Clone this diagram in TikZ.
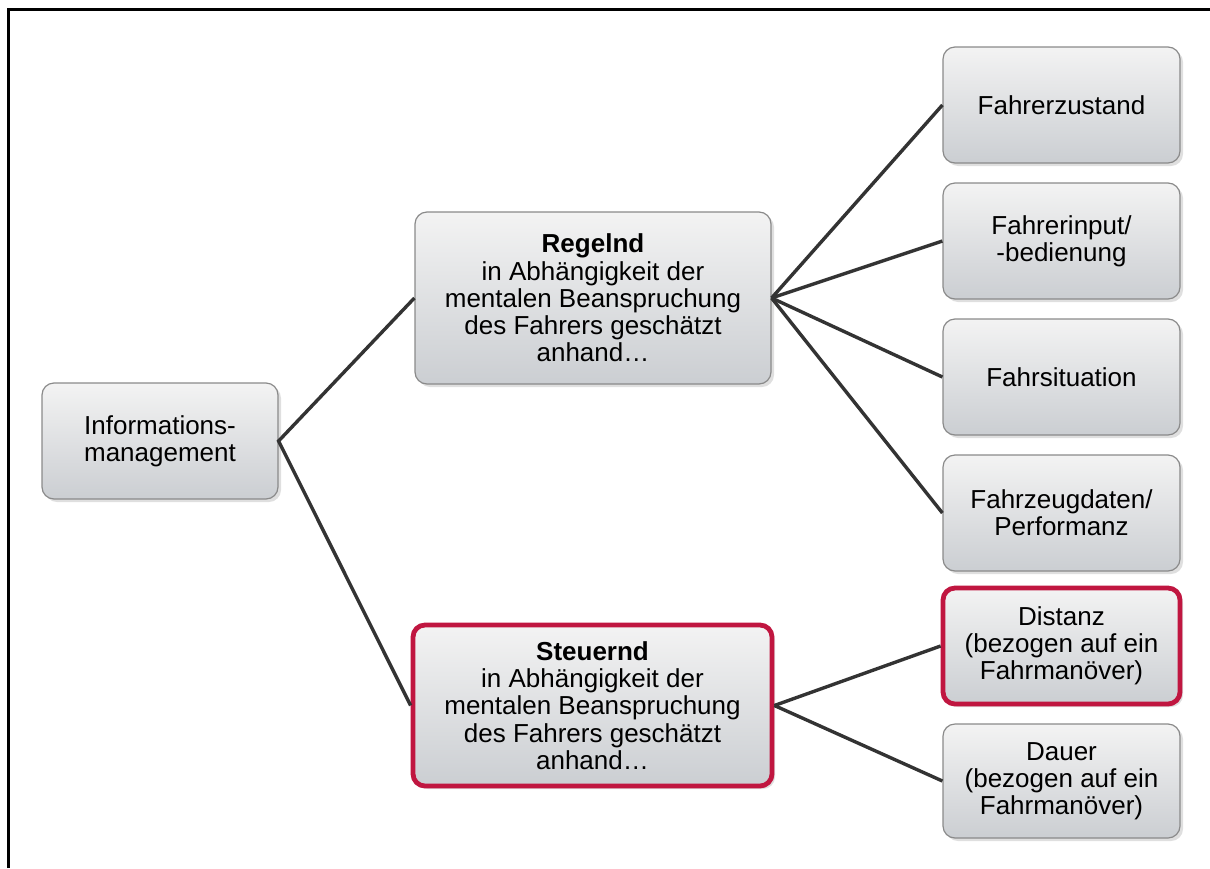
\documentclass[tikz,border=0pt]{standalone}
\usepackage{fontspec}
\setmainfont{Liberation Sans}
\usetikzlibrary{shadows}
\definecolor{boxtop}{HTML}{F3F3F3}
\definecolor{boxbot}{HTML}{CBCED2}
\definecolor{boxline}{HTML}{8A8A8A}
\definecolor{redline}{HTML}{C01640}
\definecolor{conn}{HTML}{333333}
\tikzset{
  box/.style={draw=boxline, line width=0.6pt, rounded corners=6pt,
    top color=boxtop, bottom color=boxbot, align=center,
    font=\fontsize{13}{13.6}\selectfont, inner sep=2pt,
    drop shadow={opacity=0.25, shadow xshift=1.5pt, shadow yshift=-1.5pt}},
  redbox/.style={box, draw=redline, line width=2.4pt},
  conn/.style={draw=conn, line width=1.7pt}
}
\begin{document}
\begin{tikzpicture}[x=0.5pt,y=-0.5pt]
\useasboundingbox (0,0) rectangle (1210,868);
\draw[line width=1.5pt, black] (8,868) -- (8,9) -- (1210,9);

\node[box, minimum width=118pt, minimum height=58pt] (root) at (160,441) {Informations-\\management};
\node[box, minimum width=178pt, minimum height=86pt] (reg) at (593,298) {\textbf{Regelnd}\\in Abhängigkeit der\\mentalen Beanspruchung\\des Fahrers geschätzt\\anhand…};
\node[redbox, minimum width=179.5pt, minimum height=80.5pt] (steu) at (592.5,705.5) {\textbf{Steuernd}\\in Abhängigkeit der\\mentalen Beanspruchung\\des Fahrers geschätzt\\anhand…};

\node[box, minimum width=118.5pt, minimum height=58pt] (r1) at (1061.5,105) {Fahrerzustand};
\node[box, minimum width=118.5pt, minimum height=58pt] (r2) at (1061.5,241) {Fahrerinput/\\-bedienung};
\node[box, minimum width=118.5pt, minimum height=58pt] (r3) at (1061.5,377) {Fahrsituation};
\node[box, minimum width=118.5pt, minimum height=58pt] (r4) at (1061.5,513) {Fahrzeugdaten/\\Performanz};
\node[redbox, minimum width=118.5pt, minimum height=58pt] (r5) at (1061.5,646) {Distanz\\(bezogen auf ein\\Fahrmanöver)};
\node[box, minimum width=118.5pt, minimum height=57pt] (r6) at (1061.5,781) {Dauer\\(bezogen auf ein\\Fahrmanöver)};

\draw[conn] (reg.west) -- (root.east) -- (steu.west);
\foreach \t in {r1,r2,r3,r4} \draw[conn] (reg.east) -- (\t.west);
\foreach \t in {r5,r6} \draw[conn] (steu.east) -- (\t.west);
\end{tikzpicture}
\end{document}
